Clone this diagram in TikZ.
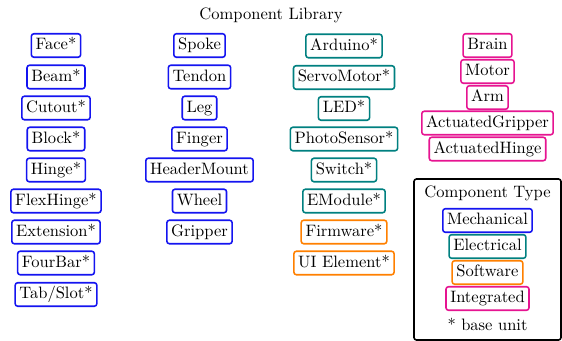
\documentclass[tikz,border=0pt]{standalone}
\begin{document}
\definecolor{mech}{RGB}{20,20,240}
\definecolor{elec}{RGB}{0,128,128}
\definecolor{soft}{RGB}{255,128,0}
\definecolor{integ}{RGB}{230,20,145}
\begin{tikzpicture}[x=0.605pt,y=-0.605pt,
  comp/.style={draw,line width=0.95pt,rounded corners=1.5pt,inner xsep=2.6pt,inner ysep=2.6pt,text height=7pt,text depth=2pt,fill=white},
  mechbox/.style={comp,draw=mech},
  elecbox/.style={comp,draw=elec},
  softbox/.style={comp,draw=soft},
  integbox/.style={comp,draw=integ},
  plain/.style={inner sep=0pt}]
\useasboundingbox (0,0) rectangle (562,341);
\node[plain] (title) at (271,15) {Component Library};
% column 1
\node[mechbox] (face) at (56,45.5) {Face*};
\node[mechbox] (beam) at (56,77) {Beam*};
\node[mechbox] (cutout) at (56,108) {Cutout*};
\node[mechbox] (block) at (56,139) {Block*};
\node[mechbox] (hinge) at (56,170) {Hinge*};
\node[mechbox] (flexhinge) at (56,201) {FlexHinge*};
\node[mechbox] (extension) at (56,232) {Extension*};
\node[mechbox] (fourbar) at (56,263) {FourBar*};
\node[mechbox] (tabslot) at (56,294.5) {Tab/Slot*};
% column 2
\node[mechbox] (spoke) at (199.5,45.5) {Spoke};
\node[mechbox] (tendon) at (199.5,77) {Tendon};
\node[mechbox] (leg) at (199.5,108) {Leg};
\node[mechbox] (finger) at (199.5,139) {Finger};
\node[mechbox] (headermount) at (199.5,170) {HeaderMount};
\node[mechbox] (wheel) at (199.5,201) {Wheel};
\node[mechbox] (gripper) at (199.5,232) {Gripper};
% column 3
\node[elecbox] (arduino) at (344,46) {Arduino*};
\node[elecbox] (servo) at (344,77.5) {ServoMotor*};
\node[elecbox] (led) at (344,108.5) {LED*};
\node[elecbox] (photo) at (344,139) {PhotoSensor*};
\node[elecbox] (switch) at (344,170) {Switch*};
\node[elecbox] (emodule) at (344,201) {EModule*};
\node[softbox] (firmware) at (344,232) {Firmware*};
\node[softbox] (uielem) at (344,263) {UI Element*};
% column 4
\node[integbox] (brain) at (487.5,45.5) {Brain};
\node[integbox] (motor) at (487.5,71.5) {Motor};
\node[integbox] (arm) at (487.5,97.5) {Arm};
\node[integbox] (agripper) at (487.5,123) {ActuatedGripper};
\node[integbox] (ahinge) at (487.5,149) {ActuatedHinge};
% legend
\node[draw=black,line width=0.95pt,rounded corners=1.5pt,minimum width=147*0.605pt,minimum height=161*0.605pt] (legend) at (487.5,259.5) {};
\node[plain] (ltitle) at (487.5,193) {Component Type};
\node[mechbox] (lmech) at (487.5,220.5) {Mechanical};
\node[elecbox] (lelec) at (487.5,246.5) {Electrical};
\node[softbox] (lsoft) at (487.5,272.5) {Software};
\node[integbox] (linteg) at (487.5,298.5) {Integrated};
\node[plain] (lnote) at (487.5,324) {* base unit};
\end{tikzpicture}
\end{document}
